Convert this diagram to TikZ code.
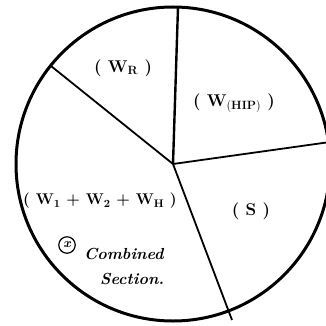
\documentclass[tikz,border=0pt]{standalone}
\begin{document}
\begin{tikzpicture}[x=1pt,y=1pt,
  rim/.style={line width=3pt},
  spoke/.style={line width=1.8pt},
  lab/.style={font=\fontsize{17}{19}\selectfont\bfseries, inner sep=0pt},
  small/.style={font=\fontsize{16}{18}\selectfont\itshape\bfseries, inner sep=0pt, anchor=west}]
\useasboundingbox (0,0) rectangle (326,-326);
\clip (0,0) rectangle (326,-326);
\coordinate (c) at (173,-164);
\draw[rim] (c) circle[radius=157];
\coordinate (top) at (178,-7);
\coordinate (ul) at (51,-66);
\coordinate (rt) at (330,-142);
\coordinate (bt) at (232,-320);
\draw[line width=2.4pt] (c) -- (top);
\draw[spoke] (c) -- (ul);
\draw[spoke] (c) -- (rt);
\draw[spoke] (c) -- (bt);
\node[lab] (wr) at (123,-68) {( W$_{\mathbf R}$ )};
\node[lab] (whip) at (234,-103) {( W$_{\mathbf{(HIP)}}$ )};
\node[lab] (s) at (251,-211) {( S )};
\node[lab, font=\fontsize{15.5}{18}\selectfont\bfseries] (wsum) at (100,-201) {( W$_{\mathbf 1}$ + W$_{\mathbf 2}$ + W$_{\mathbf H}$ )};
\node[draw, circle, line width=1.2pt, inner sep=2.5pt, font=\fontsize{13}{14}\selectfont\itshape\bfseries] (x) at (67,-245) {x};
\node[small] (comb) at (84,-254) {Combined};
\node[small] (sec) at (100,-279) {Section.};
\end{tikzpicture}
\end{document}
